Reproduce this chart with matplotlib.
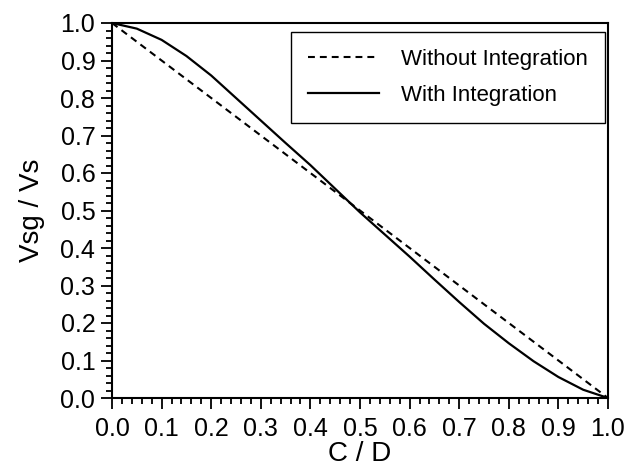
import matplotlib
matplotlib.use("Agg")
import matplotlib.pyplot as plt
from matplotlib.ticker import MultipleLocator

plt.rcParams['font.family'] = ['Liberation Sans', 'DejaVu Sans']

# Data
x_without = [0.0, 1.0]
y_without = [1.0, 0.0]

x_with = [0.00, 0.05, 0.10, 0.15, 0.20, 0.25, 0.30, 0.35, 0.40, 0.45, 0.50,
          0.55, 0.60, 0.65, 0.70, 0.75, 0.80, 0.85, 0.90, 0.95, 1.00]
y_with = [1.000, 0.985, 0.955, 0.912, 0.860, 0.800, 0.740, 0.680, 0.621, 0.558, 0.495,
          0.436, 0.377, 0.316, 0.256, 0.198, 0.146, 0.098, 0.056, 0.022, 0.000]

x_ticks = [0.0, 0.1, 0.2, 0.3, 0.4, 0.5, 0.6, 0.7, 0.8, 0.9, 1.0]
y_ticks = [0.0, 0.1, 0.2, 0.3, 0.4, 0.5, 0.6, 0.7, 0.8, 0.9, 1.0]
labels = ["Without Integration", "With Integration"]

fig = plt.figure(figsize=(6.31, 4.74), dpi=100)
ax = fig.add_axes([112/631, 1-398/474, 496/631, 375/474])

ax.plot(x_without, y_without, color='black', lw=1.5, dashes=(3.3, 2.4), label=labels[0])
ax.plot(x_with, y_with, color='black', lw=1.6, label=labels[1])

ax.set_xlim(0, 1)
ax.set_ylim(0, 1)
ax.set_xticks(x_ticks)
ax.set_yticks(y_ticks)
ax.set_xticklabels([f"{v:.1f}" for v in x_ticks])
ax.set_yticklabels([f"{v:.1f}" for v in y_ticks])
ax.xaxis.set_minor_locator(MultipleLocator(0.02))
ax.yaxis.set_minor_locator(MultipleLocator(0.02))
ax.tick_params(which='both', direction='out', top=False, right=False, width=1.3, labelsize=18, colors='black')
ax.tick_params(which='major', length=8)
ax.tick_params(axis='x', which='major', pad=6)
ax.tick_params(axis='y', which='major', pad=4)
ax.tick_params(which='minor', length=4)
for s in ax.spines.values():
    s.set_linewidth(1.5)

ax.set_xlabel("C / D", fontsize=20, labelpad=0)
ax.set_ylabel("Vsg / Vs", fontsize=20, labelpad=11)

leg = ax.legend(loc='upper right', bbox_to_anchor=(0.994, 0.976), fontsize=16,
                handlelength=3.2, handletextpad=1.0, labelspacing=0.7, borderpad=0.75,
                frameon=True, fancybox=False, framealpha=1, borderaxespad=0)
leg.get_frame().set_edgecolor('black')
leg.get_frame().set_linewidth(1.0)

fig.savefig("out.png", dpi=100)
